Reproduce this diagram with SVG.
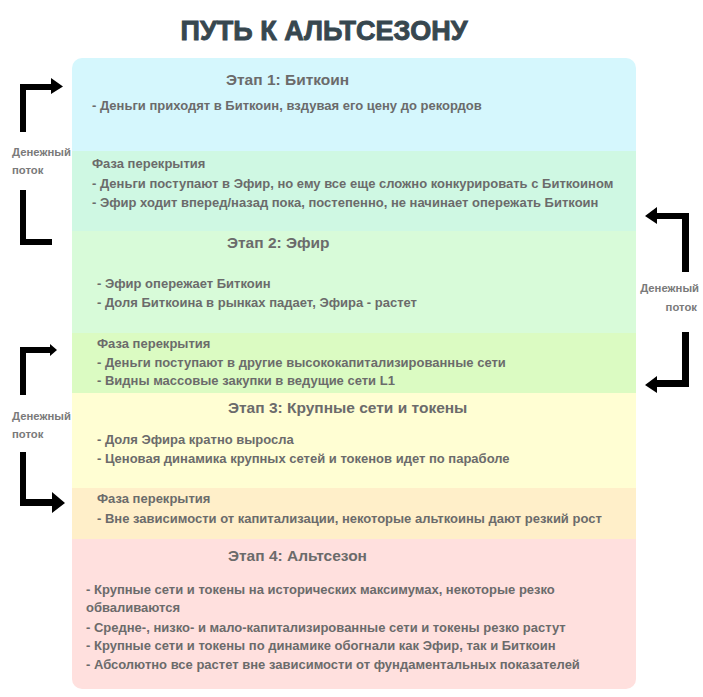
<svg xmlns="http://www.w3.org/2000/svg" width="703" height="697" viewBox="0 0 703 697">
<style>
.t{font-family:"Liberation Sans",Arial,sans-serif;font-weight:bold;fill:#6b6b6b;font-size:13px}
.h{font-family:"Liberation Sans",Arial,sans-serif;font-weight:bold;fill:#6b6b6b;font-size:15.5px}
.f{font-family:"Liberation Sans",Arial,sans-serif;font-weight:bold;fill:#7a7a7a;font-size:11.3px}
.title{font-family:"Liberation Sans",Arial,sans-serif;font-weight:bold;fill:#37474f;font-size:27px;stroke:#37474f;stroke-width:0.9}
.arr{fill:#000}
</style>
<defs>
<clipPath id="panel"><rect x="72" y="58" width="564" height="631" rx="10"/></clipPath>
</defs>
<rect width="703" height="697" fill="#fff"/>
<text class="title" x="324" y="40" text-anchor="middle">ПУТЬ К АЛЬТСЕЗОНУ</text>
<g id="bands" clip-path="url(#panel)">
<rect id="stage1" x="72" y="58" width="564" height="93" fill="#d5f7fd"/>
<rect id="overlap1" x="72" y="151" width="564" height="80" fill="#cff8e3"/>
<rect id="stage2" x="72" y="231" width="564" height="102" fill="#d8fbd9"/>
<rect id="overlap2" x="72" y="333" width="564" height="60" fill="#dbfbc2"/>
<rect id="stage3" x="72" y="393" width="564" height="95" fill="#fffed3"/>
<rect id="overlap3" x="72" y="488" width="564" height="51" fill="#ffefc9"/>
<rect id="stage4" x="72" y="539" width="564" height="150" fill="#ffe0de"/>
</g>
<g id="texts">
<text class="h" x="226" y="85">Этап 1: Биткоин</text>
<text class="t" x="92" y="110">- Деньги приходят в Биткоин, вздувая его цену до рекордов</text>
<text class="t" x="92" y="168">Фаза перекрытия</text>
<text class="t" x="92" y="188">- Деньги поступают в Эфир, но ему все еще сложно конкурировать с Биткоином</text>
<text class="t" x="92" y="207">- Эфир ходит вперед/назад пока, постепенно, не начинает опережать Биткоин</text>
<text class="h" x="227" y="248">Этап 2: Эфир</text>
<text class="t" x="97" y="288">- Эфир опережает Биткоин</text>
<text class="t" x="97" y="307">- Доля Биткоина в рынках падает, Эфира - растет</text>
<text class="t" x="97" y="348">Фаза перекрытия</text>
<text class="t" x="97" y="367">- Деньги поступают в другие высококапитализированные сети</text>
<text class="t" x="97" y="385">- Видны массовые закупки в ведущие сети L1</text>
<text class="h" x="228" y="413">Этап 3: Крупные сети и токены</text>
<text class="t" x="97" y="444">- Доля Эфира кратно выросла</text>
<text class="t" x="97" y="463">- Ценовая динамика крупных сетей и токенов идет по параболе</text>
<text class="t" x="97" y="503">Фаза перекрытия</text>
<text class="t" x="97" y="523">- Вне зависимости от капитализации, некоторые альткоины дают резкий рост</text>
<text class="h" x="228" y="561">Этап 4: Альтсезон</text>
<text class="t" x="86" y="594">- Крупные сети и токены на исторических максимумах, некоторые резко</text>
<text class="t" x="86" y="612">обваливаются</text>
<text class="t" x="86" y="632">- Средне-, низко- и мало-капитализированные сети и токены резко растут</text>
<text class="t" x="86" y="650">- Крупные сети и токены по динамике обогнали как Эфир, так и Биткоин</text>
<text class="t" x="86" y="669">- Абсолютно все растет вне зависимости от фундаментальных показателей</text>
</g>
<g id="connectors">
<path class="arr" d="M20,132 V84 H51 V78 L63,86.5 L51,94 V90 H26 V132 Z"/>
<path class="arr" d="M20,190 V245 H52 V239 H26 V190 Z"/>
<path class="arr" d="M689,272 V213 H657 V207 L645,216 L657,224 V219 H682 V272 Z"/>
<path class="arr" d="M682,332 V380 H657 V376 L645,385 L657,393 V387 H689 V332 Z"/>
<path class="arr" d="M20,395 V347 H50 V344 L57,350 L50,356 V353 H26 V395 Z"/>
<path class="arr" d="M20,452 H26 V499 H52 V492 L65,503 L52,513 V506 H20 Z"/>
</g>
<g id="labels">
<text class="f" x="12" y="156">Денежный</text>
<text class="f" x="12" y="174">поток</text>
<text class="f" x="699" y="292" text-anchor="end">Денежный</text>
<text class="f" x="697" y="311" text-anchor="end">поток</text>
<text class="f" x="12" y="420">Денежный</text>
<text class="f" x="12" y="438">поток</text>
</g>
</svg>
